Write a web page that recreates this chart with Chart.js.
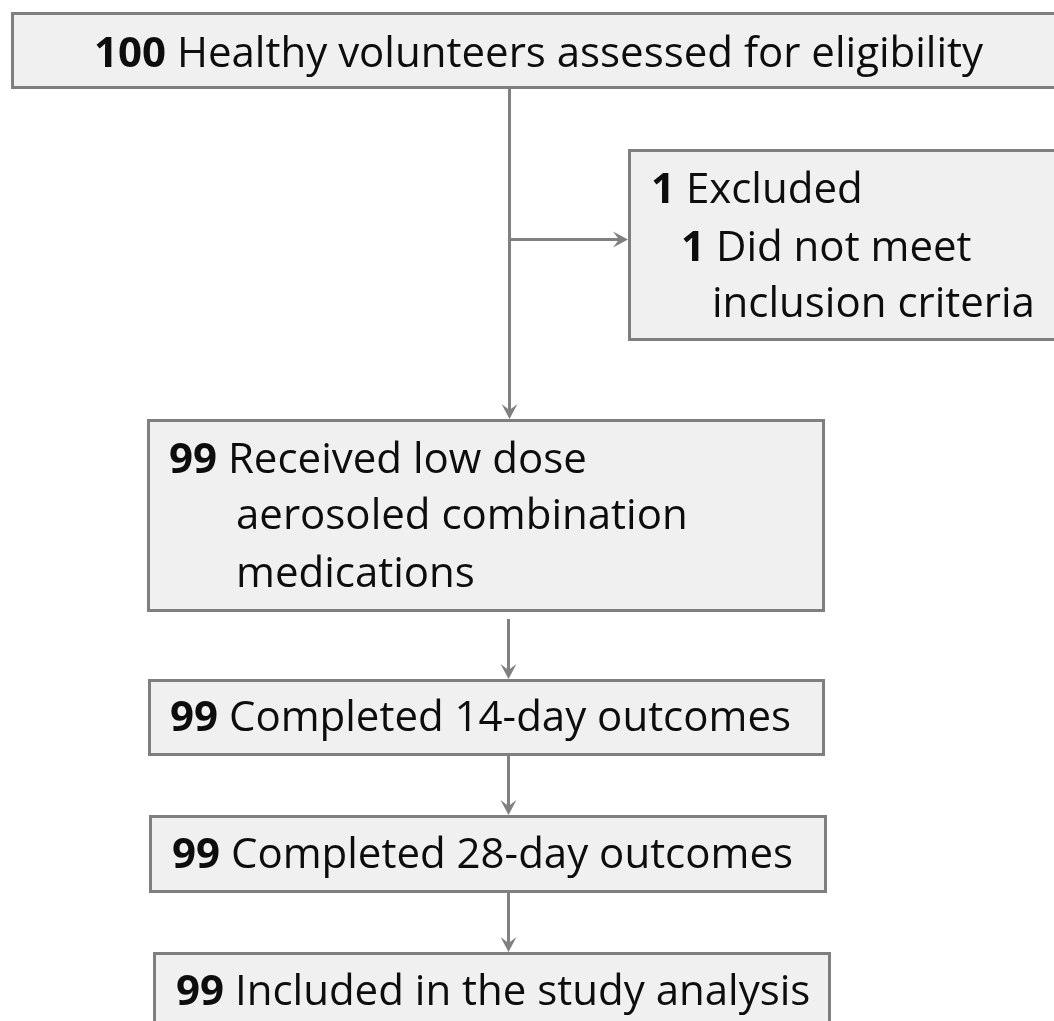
<!DOCTYPE html>
<html>
<head>
<meta charset="utf-8">
<script src="https://cdn.jsdelivr.net/npm/chart.js@4/dist/chart.umd.min.js"></script>
<style>
  html, body { margin: 0; padding: 0; background: #ffffff; overflow: hidden; }
  #wrap { width: 1054px; height: 1021px; position: relative; }
</style>
</head>
<body>
<div id="wrap"><canvas id="c"></canvas></div>
<script>
// ---- DATA ----
const counts = [100, 1, 1, 99, 99, 99, 99];
const labels = [
  ["Healthy volunteers assessed for eligibility"],
  ["Excluded"],
  ["Did not meet", "inclusion criteria"],
  ["Received low dose", "aerosoled combination", "medications"],
  ["Completed 14-day outcomes"],
  ["Completed 28-day outcomes"],
  ["Included in the study analysis"]
];

// ---- LAYOUT (in scale units) ----
const boxes = [
  { x1: 11,  y1: 12,  x2: 1070, y2: 89 },
  { x1: 628, y1: 149, x2: 1070, y2: 341 },
  { x1: 147, y1: 419, x2: 825,  y2: 612 },
  { x1: 148, y1: 679, x2: 825,  y2: 756 },
  { x1: 149, y1: 815, x2: 827,  y2: 893 },
  { x1: 153, y1: 952, x2: 831,  y2: 1060 }
];
const textPlacement = [
  [[94, 67]],
  [[651, 203]],
  [[681, 261], [712, 317]],
  [[169, 473], [236, 529], [236, 587]],
  [[170, 731]],
  [[172, 868]],
  [[176, 1005]]
];
const arrows = [
  { x1: 509.5, y1: 89,    x2: 509.5, y2: 419 },
  { x1: 509.5, y1: 239.5, x2: 628,   y2: 239.5 },
  { x1: 508.5, y1: 619,   x2: 508.5, y2: 679 },
  { x1: 508.5, y1: 756,   x2: 508.5, y2: 815 },
  { x1: 508.5, y1: 893,   x2: 508.5, y2: 952 }
];

// ---- STYLE ----
const FONT_FAMILY = "'Open Sans', 'Noto Sans', sans-serif";
const FONT_SIZE = 42;
const H_SCALE = 1.0;
const BORDER = '#7f7f7f';
const FILL = '#f0f0f0';
const LINE = '#808080';
const TEXT = '#0d0d0d';

const flowPlugin = {
  id: 'flow',
  afterDraw(chart) {
    const ctx = chart.ctx;
    const xs = chart.scales.x, ys = chart.scales.y;
    const px = v => xs.getPixelForValue(v);
    const py = v => ys.getPixelForValue(v);
    ctx.save();

    // connectors
    ctx.strokeStyle = LINE;
    ctx.fillStyle = LINE;
    ctx.lineWidth = 3;
    ctx.lineCap = 'butt';
    arrows.forEach(a => {
      const x1 = px(a.x1), y1 = py(a.y1), x2 = px(a.x2), y2 = py(a.y2);
      const ang = Math.atan2(y2 - y1, x2 - x1);
      const L = 15, W = 8;
      ctx.beginPath();
      ctx.moveTo(x1, y1);
      ctx.lineTo(x2 - Math.cos(ang) * 6, y2 - Math.sin(ang) * 6);
      ctx.stroke();
      // arrow head (stealth-like)
      const bx = x2 - Math.cos(ang) * L, by = y2 - Math.sin(ang) * L;
      const nx = -Math.sin(ang), ny = Math.cos(ang);
      ctx.beginPath();
      ctx.moveTo(x2, y2);
      ctx.lineTo(bx + nx * W, by + ny * W);
      ctx.lineTo(x2 - Math.cos(ang) * (L * 0.6), y2 - Math.sin(ang) * (L * 0.6));
      ctx.lineTo(bx - nx * W, by - ny * W);
      ctx.closePath();
      ctx.fill();
    });

    // boxes
    boxes.forEach(b => {
      const x1 = px(b.x1), y1 = py(b.y1), x2 = px(b.x2), y2 = py(b.y2);
      ctx.fillStyle = FILL;
      ctx.fillRect(x1, y1, x2 - x1, y2 - y1);
      ctx.strokeStyle = BORDER;
      ctx.lineWidth = 3;
      ctx.strokeRect(x1 + 1.5, y1 + 1.5, x2 - x1 - 3, y2 - y1 - 3);
    });

    // texts
    ctx.fillStyle = TEXT;
    ctx.textBaseline = 'alphabetic';
    ctx.textAlign = 'left';
    labels.forEach((lines, i) => {
      lines.forEach((txt, j) => {
        const [tx, tb] = textPlacement[i][j];
        ctx.save();
        ctx.translate(px(tx), py(tb));
        ctx.scale(H_SCALE, 1);
        let cx = 0;
        if (j === 0) {
          ctx.font = 'bold ' + FONT_SIZE + 'px ' + FONT_FAMILY;
          const num = String(counts[i]);
          ctx.fillText(num, 0, 0);
          cx = ctx.measureText(num + ' ').width;
        }
        ctx.font = FONT_SIZE + 'px ' + FONT_FAMILY;
        ctx.fillText(txt, cx, 0);
        ctx.restore();
      });
    });
    ctx.restore();
  }
};

new Chart(document.getElementById('c'), {
  type: 'scatter',
  data: { datasets: [{ data: [] }] },
  options: {
    responsive: true,
    maintainAspectRatio: false,
    animation: false,
    layout: { padding: 0 },
    plugins: { legend: { display: false }, tooltip: { enabled: false }, title: { display: false } },
    scales: {
      x: { type: 'linear', min: 0, max: 1054, display: false },
      y: { type: 'linear', min: 0, max: 1021, reverse: true, display: false }
    }
  },
  plugins: [flowPlugin]
});
</script>
</body>
</html>
